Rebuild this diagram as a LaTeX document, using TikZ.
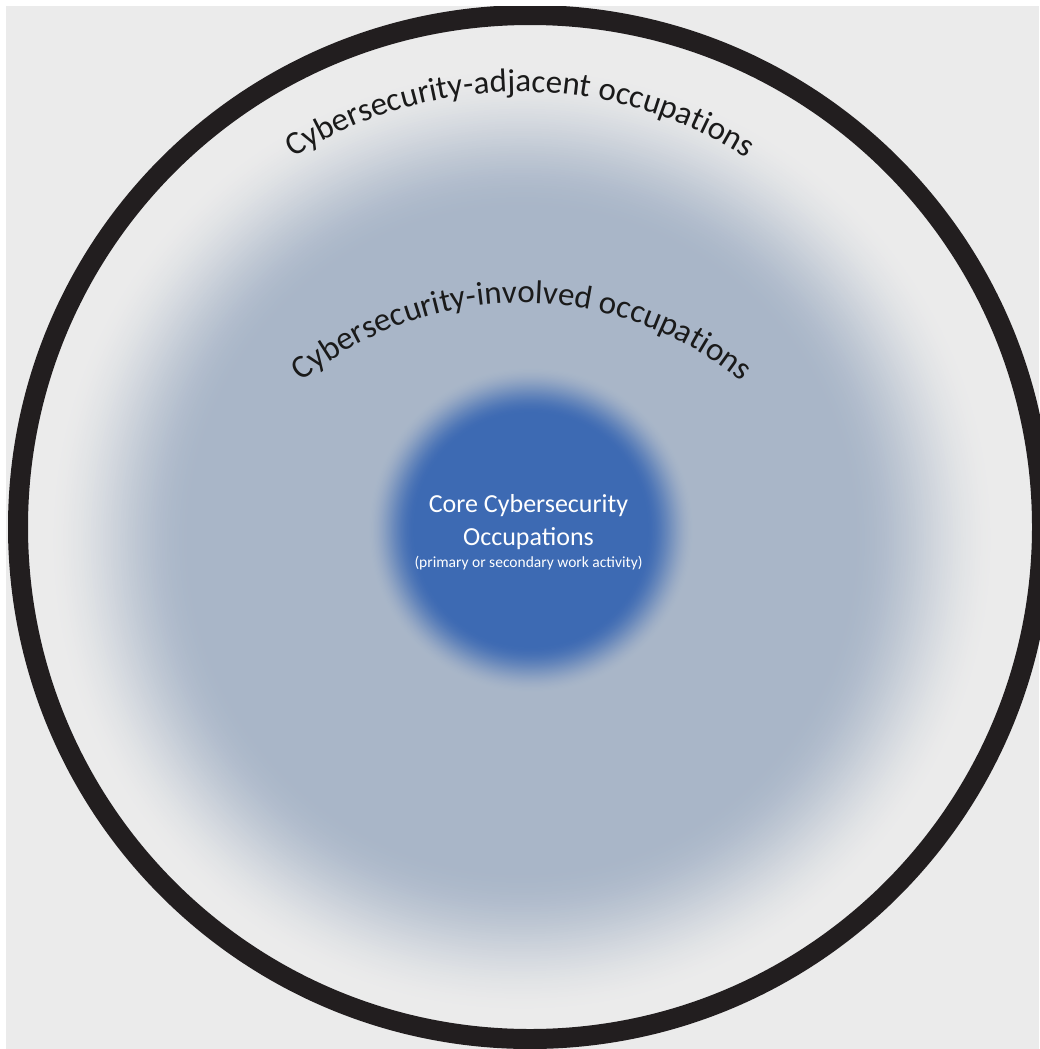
\documentclass[tikz,border=0pt]{standalone}
\usepackage{fontspec}
\setmainfont{Carlito}
\usetikzlibrary{decorations.text}

% palette
\definecolor{pagewhite}{HTML}{FFFFFF}
\definecolor{bggray}{HTML}{EBEBEB}
\definecolor{involvedgray}{HTML}{A9B6C8}
\definecolor{coreblue}{HTML}{3D6AB3}
\definecolor{ringblack}{HTML}{221E1F}
\definecolor{arcink}{HTML}{1A1A1A}

\newcommand\arcfont{\fontsize{33}{39}\selectfont}

\tikzset{
  coretitle/.style={text=white, inner sep=0pt, anchor=base,
    font=\fontsize{26}{32}\selectfont},
  corenote/.style={text=white, inner sep=0pt, anchor=base,
    font=\fontsize{15.5}{19}\selectfont},
  ring/.style={draw=ringblack, line width=20pt},
  arclabel/.style={decorate, decoration={text along path, text align=center,
    text color=arcink, text={|\arcfont|#1}}}
}

\begin{document}
\begin{tikzpicture}[x=1pt, y=1pt]
  \useasboundingbox (0,0) rectangle (1039,-1049);
  \fill[pagewhite] (0,0) rectangle (1039,-1049);
  \fill[bggray] (6,-6) rectangle (1039,-1049);

  \coordinate (ringc) at (530,-527);
  \coordinate (midc) at (522,-540);
  \coordinate (corec) at (531,-530);
  \coordinate (adjc) at (520,-515);
  \coordinate (invc) at (522,-649);

  % involved zone: soft-edged disc built from stacked discs (smoothstep fade)
  \foreach \i [evaluate=\i as \r using {478-148*\i/60},
               evaluate=\i as \p using {100*(3*(\i/60)^2-2*(\i/60)^3)}]
      in {1,...,60}
    \fill[involvedgray!\p!bggray] (midc) circle[radius=\r];

  % core disc, same construction
  \foreach \i [evaluate=\i as \r using {164-48*\i/40},
               evaluate=\i as \p using {100*(3*(\i/40)^2-2*(\i/40)^3)}]
      in {1,...,40}
    \fill[coreblue!\p!involvedgray] (corec) circle[radius=\r];

  % outer boundary
  \draw[ring] (ringc) circle[radius=512];

  % page margin strip
  \fill[pagewhite] (0,0) rectangle (6,-1049);
  \fill[pagewhite] (0,0) rectangle (1039,-6);

  % curved labels
  \path[arclabel={Cybersecurity-adjacent occupations}]
    (adjc) ++(150:423) arc[start angle=150, end angle=30, radius=423];
  \path[arclabel={Cybersecurity-involved occupations}]
    (invc) ++(155:346) arc[start angle=155, end angle=25, radius=346];

  % core label
  \node[coretitle] (core1) at (528.5,-512) {Core Cybersecurity};
  \node[coretitle] (core2) at (528.5,-545) {Occupations};
  \node[corenote]  (core3) at (528.5,-567) {(primary or secondary work activity)};
\end{tikzpicture}
\end{document}
